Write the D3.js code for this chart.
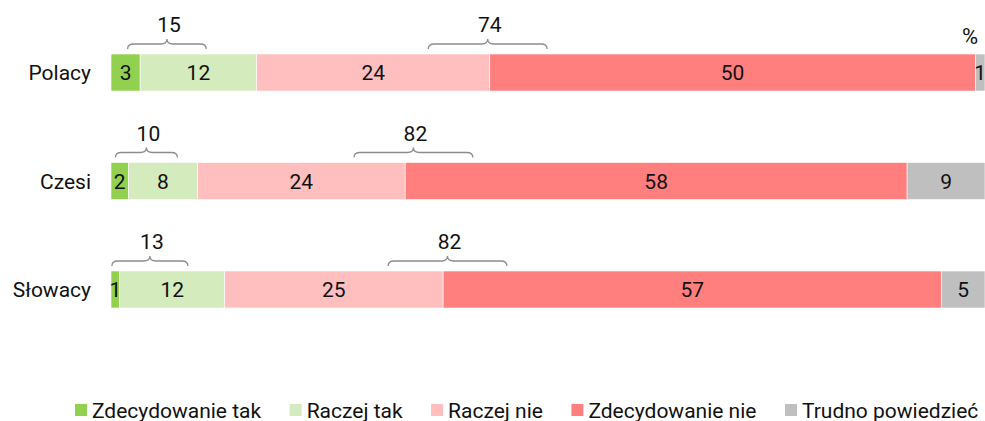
<!DOCTYPE html>
<html>
<head>
<meta charset="utf-8">
<script src="https://cdn.jsdelivr.net/npm/d3@7"></script>
<style>
  body { margin: 0; background: #fff; }
  svg { font-family: Roboto, "Noto Sans", sans-serif; }
</style>
</head>
<body>
<svg id="chart" width="985" height="421"></svg>
<script>
// categories and answers
const groups = ["Polacy", "Czesi", "Słowacy"];
const answers = ["Zdecydowanie tak", "Raczej tak", "Raczej nie", "Zdecydowanie nie", "Trudno powiedzieć"];
const colors = ["#92d050", "#d4ebbd", "#ffbfbf", "#ff7f7f", "#bfbfbf"];

// values per group, in answer order
const polacy = [3, 12, 24, 50, 1];
const czesi = [2, 8, 24, 58, 9];
const slowacy = [1, 12, 25, 57, 5];
const values = [polacy, czesi, slowacy];

// totals shown over brackets (yes / no)
const yesTotals = [15, 10, 13];
const noTotals = [74, 82, 82];
// bracket extents on the 0-100 axis
const yesBrackets = [[1.9, 10.9], [0.5, 7.6], [0.1, 8.8]];
const noBrackets = [[36.3, 49.9], [27.8, 41.4], [31.7, 45.3]];

const svg = d3.select("#chart");
const left = 111, right = 985;
const barH = 37;
const fs = 21;

const x = d3.scaleLinear().domain([0, 100]).range([left, right]);
const y = d3.scalePoint().domain(groups).range([72.5, 289.5]);

// each bar fills the full width
const rows = groups.map((g, i) => {
  const total = d3.sum(values[i]);
  let acc = 0;
  const segs = values[i].map((v, j) => {
    const s = { group: g, answer: j, value: v, x0: acc / total * 100, x1: (acc + v) / total * 100 };
    acc += v;
    return s;
  });
  return { group: g, segs: segs };
});

const bars = svg.selectAll("g.row")
  .data(rows)
  .enter()
  .append("g")
  .attr("class", "row");

bars.selectAll("rect")
  .data((d) => d.segs)
  .enter()
  .append("rect")
  .attr("x", (d) => x(d.x0))
  .attr("width", (d) => x(d.x1) - x(d.x0))
  .attr("y", (d) => y(d.group) - barH / 2)
  .attr("height", barH)
  .style("fill", (d) => colors[d.answer])
  .style("stroke", "#fff")
  .style("stroke-width", 0.6);

bars.selectAll("text")
  .data((d) => d.segs)
  .enter()
  .append("text")
  .attr("x", (d) => (x(d.x0) + x(d.x1)) / 2)
  .attr("y", (d) => y(d.group) + 7.5)
  .attr("text-anchor", "middle")
  .style("font-size", fs + "px")
  .style("fill", "#111")
  .text((d) => d.value);

// category labels
svg.selectAll("text.cat")
  .data(groups)
  .enter()
  .append("text")
  .attr("class", "cat")
  .attr("x", 91)
  .attr("y", (d) => y(d) + 7.5)
  .attr("text-anchor", "end")
  .style("font-size", fs + "px")
  .style("fill", "#111")
  .text((d) => d);

// curly brackets
const brace = (x0, x1, yl) => {
  const xm = (x0 + x1) / 2;
  return `M${x0},${yl + 5} Q${x0},${yl} ${x0 + 6},${yl} L${xm - 6},${yl} Q${xm},${yl} ${xm},${yl - 5}` +
    ` Q${xm},${yl} ${xm + 6},${yl} L${x1 - 6},${yl} Q${x1},${yl} ${x1},${yl + 5}`;
};

const bracketData = [];
groups.forEach((g, i) => {
  bracketData.push({ group: g, ext: yesBrackets[i], total: yesTotals[i] });
  bracketData.push({ group: g, ext: noBrackets[i], total: noTotals[i] });
});

svg.selectAll("path.brace")
  .data(bracketData)
  .enter()
  .append("path")
  .attr("class", "brace")
  .attr("d", (d) => brace(x(d.ext[0]), x(d.ext[1]), y(d.group) - barH / 2 - 10))
  .style("fill", "none")
  .style("stroke", "#8c8c8c")
  .style("stroke-width", 1.3);

svg.selectAll("text.total")
  .data(bracketData)
  .enter()
  .append("text")
  .attr("class", "total")
  .attr("x", (d) => (x(d.ext[0]) + x(d.ext[1])) / 2 + 2)
  .attr("y", (d) => y(d.group) - barH / 2 - 22)
  .attr("text-anchor", "middle")
  .style("font-size", fs + "px")
  .style("fill", "#111")
  .text((d) => d.total);

svg.append("text")
  .attr("x", 970)
  .attr("y", 44)
  .attr("text-anchor", "middle")
  .style("font-size", "22px")
  .style("fill", "#111")
  .text("%");

// legend
const legend = svg.append("g").attr("transform", "translate(75,410)");
let lx = 0;
answers.forEach((a, i) => {
  const item = legend.append("g").attr("transform", `translate(${lx},0)`);
  item.append("rect")
    .attr("x", 0)
    .attr("y", -6)
    .attr("width", 12)
    .attr("height", 12)
    .style("fill", colors[i]);
  const t = item.append("text")
    .attr("x", 17)
    .attr("y", 7.5)
    .style("font-size", fs + "px")
    .style("fill", "#111")
    .text(a);
  lx += 17 + t.node().getComputedTextLength() + 28.5;
});
</script>
</body>
</html>
